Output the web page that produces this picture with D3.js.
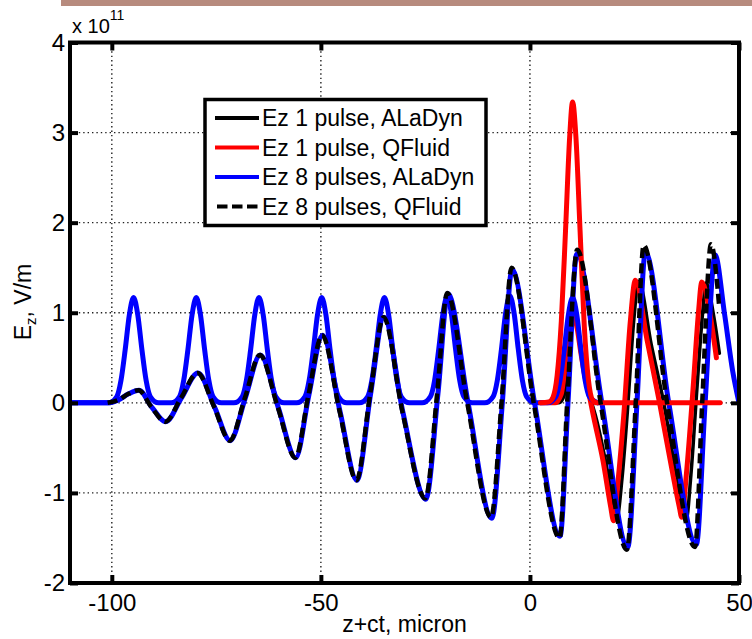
<!DOCTYPE html>
<html>
<head>
<meta charset="utf-8">
<script src="https://cdn.jsdelivr.net/npm/d3@7"></script>
<style>
  html, body { margin: 0; padding: 0; background: #fff; }
  svg { display: block; font-family: "Liberation Sans", Arial, Helvetica, sans-serif; }
</style>
</head>
<body>
<svg id="chart" width="752" height="639"></svg>
<script>
// ---------------- DATA ----------------
const xTicks = [-100, -50, 0, 50];
const yTicks = [-2, -1, 0, 1, 2, 3, 4];
const legendLabels = ["Ez 1 pulse, ALaDyn", "Ez 1 pulse, QFluid", "Ez 8 pulses, ALaDyn", "Ez 8 pulses, QFluid"];

// 8 pulse envelopes (blue)
const pulse8X = [-110,
  -100.8, -98.8, -97.8, -96.8, -95.8, -94.8, -93.8, -92.8, -91.8, -90.8, -88.8,
  -85.8, -83.8, -82.8, -81.8, -80.8, -79.8, -78.8, -77.8, -76.8, -75.8, -73.8,
  -70.8, -68.8, -67.8, -66.8, -65.8, -64.8, -63.8, -62.8, -61.8, -60.8, -58.8,
  -55.8, -53.8, -52.8, -51.8, -50.8, -49.8, -48.8, -47.8, -46.8, -45.8, -43.8,
  -40.8, -38.8, -37.8, -36.8, -35.8, -34.8, -33.8, -32.8, -31.8, -30.8, -28.8,
  -25.8, -23.8, -22.8, -21.8, -20.8, -19.8, -18.8, -17.8, -16.8, -15.8, -13.8,
  -10.8, -8.8, -7.8, -6.8, -5.8, -4.8, -3.8, -2.8, -1.8, -0.8, 1.2,
  4.2, 6.2, 7.2, 8.2, 9.2, 10.2, 11.2, 12.2, 13.2, 14.2, 16.2];
const pulse8Y = [0,
  0, 0.07, 0.25, 0.59, 0.98, 1.17, 0.98, 0.59, 0.25, 0.07, 0,
  0, 0.07, 0.25, 0.59, 0.98, 1.17, 0.98, 0.59, 0.25, 0.07, 0,
  0, 0.07, 0.25, 0.59, 0.98, 1.17, 0.98, 0.59, 0.25, 0.07, 0,
  0, 0.07, 0.25, 0.59, 0.98, 1.17, 0.98, 0.59, 0.25, 0.07, 0,
  0, 0.07, 0.25, 0.59, 0.98, 1.17, 0.98, 0.59, 0.25, 0.07, 0,
  0, 0.07, 0.25, 0.60, 0.99, 1.18, 0.99, 0.60, 0.25, 0.07, 0,
  0, 0.07, 0.25, 0.60, 1.00, 1.19, 1.00, 0.60, 0.25, 0.07, 0,
  0, 0.07, 0.25, 0.59, 0.98, 1.17, 0.98, 0.59, 0.25, 0.07, 0];

// 1 pulse envelope (red)
const pulse1X = [2.5, 4.5, 5.5, 6.5, 7.5, 8.5, 9.5, 10.2, 11.0, 12.0, 13.0, 14.0, 15.0, 16.0, 45.5];
const pulse1Y = [0, 0.01, 0.06, 0.3, 0.9, 1.9, 2.95, 3.34, 2.95, 1.9, 0.85, 0.25, 0.03, 0, 0];

// Ez, 8 pulses, QFluid (black dashed)
const ez8QX = [-101, -98.5, -96, -93.6, -90.5, -87.2, -83.5, -79.5, -75.5, -71.8, -68.2, -64.6,
  -60.3, -56.1, -53, -49.7, -45.5, -41.5, -38.2, -35.0, -30.5, -25.0, -22.2, -19.8, -15.0, -9.3,
  -6.8, -4.4, 0.9, 7.1, 8.9, 11.3, 16.9, 23.2, 25.3, 27.2, 32.8, 39.5, 41.2, 43.3, 45.3];
const ez8QY = [0, 0.03, 0.1, 0.14, -0.05, -0.21, 0.05, 0.33, -0.05, -0.42, 0.05, 0.53,
  -0.05, -0.61, 0.08, 0.75, -0.1, -0.86, 0.1, 0.95, -0.1, -1.06, 0.1, 1.22, 0, -1.27,
  0, 1.5, 0, -1.5, 0, 1.7, 0, -1.63, 0, 1.75, 0, -1.6, 0, 1.76, 1.05];

// Ez, 8 pulses, ALaDyn (blue)
const ez8AX = [-110, -101, -98.5, -96, -93.5, -90.4, -87.1, -83.4, -79.4, -75.4, -71.7, -68.1, -64.5,
  -60.2, -56.0, -52.9, -49.6, -45.4, -41.4, -38.1, -34.9, -30.4, -24.9, -22.0, -19.6, -14.8, -9.1,
  -6.6, -4.3, 1.1, 7.2, 9.1, 11.2, 17.2, 23.4, 25.6, 27.6, 33.2, 39.8, 41.9, 44.3, 46.5, 48.5, 50];
const ez8AY = [0, 0, 0.03, 0.1, 0.14, -0.05, -0.21, 0.05, 0.33, -0.05, -0.42, 0.05, 0.53,
  -0.05, -0.61, 0.08, 0.75, -0.1, -0.86, 0.1, 0.95, -0.1, -1.07, 0.1, 1.21, 0, -1.28,
  0, 1.48, 0, -1.48, 0, 1.65, 0, -1.6, 0, 1.67, 0, -1.57, 0, 1.64, 1.0, 0.35, 0];

// Ez, 1 pulse, QFluid (red)
const ez1QX = [2.5, 6.0, 7.5, 8.5, 9.5, 10.2, 11.2, 12.2, 13.2, 14.2, 15.2, 17.5, 19.3, 20.0, 21.0, 22.5, 24.0, 25.2,
  28.0, 31.0, 34.0, 35.7, 36.3, 37.4, 39.0, 40.3, 41.1, 43.0, 44.6];
const ez1QY = [0, 0, 0.1, 0.45, 0.85, 1.0, 0.85, 0.55, 0.28, 0.08, -0.15, -0.65, -1.15, -1.31, -0.9, -0.1, 0.9, 1.36,
  0.7, 0, -0.75, -1.15, -1.27, -0.8, 0.15, 1.0, 1.34, 1.0, 0.5];

// Ez, 1 pulse, ALaDyn (black solid)
const ez1AX = [3.0, 7.0, 8.3, 9.2, 10.0, 10.6, 11.5, 12.5, 13.5, 14.5, 16.0, 18.5, 20.2, 20.8, 22.0, 23.3, 24.8, 26.0,
  29.0, 32.0, 35.0, 36.7, 37.3, 38.5, 40.0, 41.3, 42.1, 44.0, 45.3];
const ez1AY = [0, 0, 0.1, 0.45, 0.85, 1.0, 0.85, 0.5, 0.25, 0.05, -0.2, -0.75, -1.18, -1.28, -0.85, -0.1, 0.9, 1.35,
  0.65, 0, -0.8, -1.2, -1.32, -0.8, 0.2, 1.0, 1.33, 0.95, 0.55];

// ---------------- CHART ----------------
const svg = d3.select("#chart");
const L = 70, R = 739, T = 42.5, B = 583;
const x = d3.scaleLinear().domain([-110, 50]).range([L, R]);
const y = d3.scaleLinear().domain([-2, 4]).range([B, T]);

// top decorative bar
svg.append("rect").attr("x", 61).attr("y", 0).attr("width", 691).attr("height", 6).attr("fill", "#b78b7e");

// plot background
svg.append("rect").attr("x", L).attr("y", T).attr("width", R - L).attr("height", B - T).attr("fill", "#fff");

svg.append("defs").append("clipPath").attr("id", "clip")
  .append("rect").attr("x", L).attr("y", T).attr("width", R - L).attr("height", B - T);

// grid
const grid = svg.append("g").attr("stroke", "#222").attr("stroke-width", 1.4).attr("stroke-dasharray", "1.4,3");
xTicks.filter(v => v > -110 && v < 50).forEach(v => {
  grid.append("line").attr("x1", x(v)).attr("x2", x(v)).attr("y1", T).attr("y2", B);
});
yTicks.filter(v => v > -2 && v < 4).forEach(v => {
  grid.append("line").attr("x1", L).attr("x2", R).attr("y1", y(v)).attr("y2", y(v));
});

// lines
const zipXY = (xs, ys) => xs.map((v, i) => [v, ys[i]]);
const line = d3.line().x(d => x(d[0])).y(d => y(d[1])).curve(d3.curveMonotoneX);
const plot = svg.append("g").attr("clip-path", "url(#clip)").attr("fill", "none")
  .attr("stroke-linejoin", "round").attr("stroke-linecap", "round");

plot.append("path").attr("d", line(zipXY(ez1AX, ez1AY))).attr("stroke", "#000").attr("stroke-width", 3.5);
plot.append("path").attr("d", line(zipXY(ez1QX, ez1QY))).attr("stroke", "#ff0000").attr("stroke-width", 5);
plot.append("path").attr("d", line(zipXY(pulse8X, pulse8Y))).attr("stroke", "#0000ff").attr("stroke-width", 5);
plot.append("path").attr("d", line(zipXY(ez8AX, ez8AY))).attr("stroke", "#0000ff").attr("stroke-width", 5);
plot.append("path").attr("d", line(zipXY(pulse1X, pulse1Y))).attr("stroke", "#ff0000").attr("stroke-width", 5);
plot.append("path").attr("d", line(zipXY(ez8QX, ez8QY))).attr("stroke", "#000").attr("stroke-width", 4.5)
  .attr("stroke-dasharray", "10,5").attr("stroke-linecap", "butt");

// axes (tick labels + inward ticks)
const fmt = d => String(d);
const styleAxis = g => {
  g.select(".domain").remove();
  g.selectAll(".tick line").attr("stroke", "#000").attr("stroke-width", 4);
  g.selectAll(".tick text").attr("fill", "#000").style("font-size", "24px")
    .style("font-family", '"Liberation Sans", Arial, sans-serif');
};
svg.append("g").attr("transform", `translate(0,${B})`)
  .call(d3.axisBottom(x).tickValues(xTicks).tickFormat(fmt).tickSize(-8).tickPadding(11)).call(styleAxis);
svg.append("g").attr("transform", `translate(0,${T})`)
  .call(d3.axisTop(x).tickValues(xTicks).tickFormat("").tickSize(-8)).call(styleAxis);
svg.append("g").attr("transform", `translate(${L},0)`)
  .call(d3.axisLeft(y).tickValues(yTicks).tickFormat(fmt).tickSize(-8).tickPadding(5)).call(styleAxis);
svg.append("g").attr("transform", `translate(${R},0)`)
  .call(d3.axisRight(y).tickValues(yTicks).tickFormat("").tickSize(-8)).call(styleAxis);

// frame
svg.append("rect").attr("x", L).attr("y", T).attr("width", R - L).attr("height", B - T)
  .attr("fill", "none").attr("stroke", "#000").attr("stroke-width", 4);

// exponent label
const ex = svg.append("text").attr("x", 72).attr("y", 33).attr("fill", "#000").style("font-size", "20px");
ex.append("tspan").text("x 10");
ex.append("tspan").attr("dy", -13).style("font-size", "14px").text("11");

// axis titles
svg.append("text").attr("x", (L + R) / 2).attr("y", 632).attr("text-anchor", "middle")
  .style("font-size", "23px").attr("fill", "#000").text("z+ct, micron");
const yl = svg.append("text").attr("transform", "translate(31,302) rotate(-90)").attr("text-anchor", "middle")
  .style("font-size", "23px").attr("fill", "#000");
yl.append("tspan").text("E");
yl.append("tspan").attr("dy", 5).style("font-size", "15px").text("z");
yl.append("tspan").attr("dy", -5).text(", V/m");

// legend
const lg = svg.append("g");
lg.append("rect").attr("x", 205).attr("y", 99.5).attr("width", 281).attr("height", 126)
  .attr("fill", "#fff").attr("stroke", "#000").attr("stroke-width", 3.5);
const legStyles = [
  { c: "#000", dash: null },
  { c: "#ff0000", dash: null },
  { c: "#0000ff", dash: null },
  { c: "#000", dash: "10.5,4.5" }
];
legendLabels.forEach((lab, i) => {
  const yy = 118 + i * 29.5;
  const st = legStyles[i];
  const ln = lg.append("line").attr("x1", 215).attr("x2", 259).attr("y1", yy).attr("y2", yy)
    .attr("stroke", st.c).attr("stroke-width", 4.2);
  if (st.dash) ln.attr("stroke-dasharray", st.dash).attr("x1", 217);
  lg.append("text").attr("x", 262).attr("y", yy).attr("dy", "0.35em").style("font-size", "23px")
    .attr("fill", "#000").text(lab);
});
</script>
</body>
</html>
